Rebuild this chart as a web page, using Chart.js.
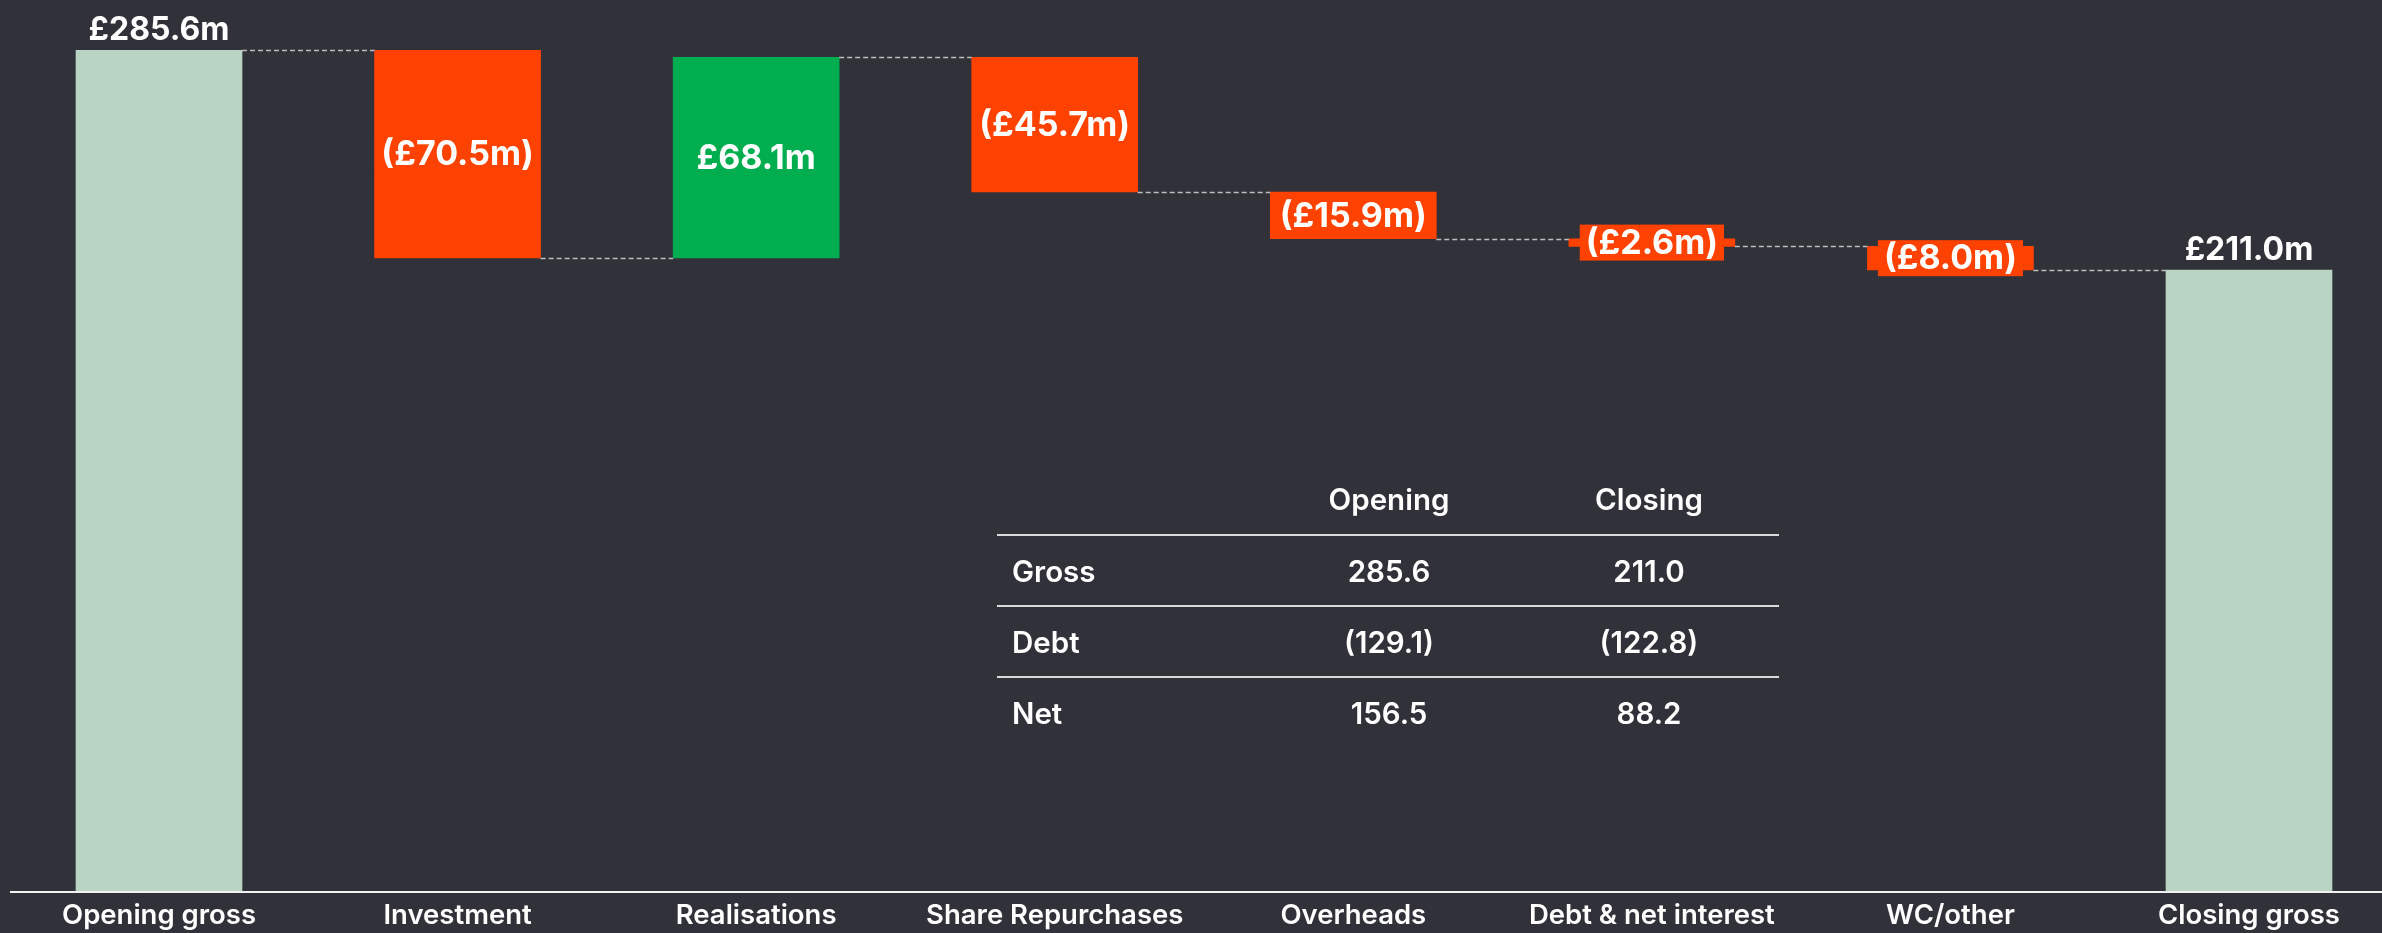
<!DOCTYPE html>
<html>
<head>
<meta charset="utf-8">
<script src="https://cdn.jsdelivr.net/npm/chart.js@4.4.1/dist/chart.umd.min.js"></script>
<style>
  html, body { margin: 0; padding: 0; background: #31313a; overflow: hidden; }
  #wrap { position: relative; width: 2382px; height: 933px; }
  canvas { display: block; }
  #tbl { position: absolute; left: 997px; top: 463px; width: 782px;
         font-family: Inter, "Open Sans", sans-serif; font-weight: 600; font-size: 29.5px; color: #ffffff; }
  .row { display: flex; align-items: center; height: 71px; box-sizing: border-box; }
  .row.body { border-top: 2px solid #d9d9d9; }
  .c0 { width: 262px; padding-left: 15px; box-sizing: border-box; text-align: left; }
  .c1, .c2 { width: 260px; text-align: center; }
</style>
</head>
<body>
<div id="wrap">
  <canvas id="chart" width="2382" height="933"></canvas>
  <div id="tbl"></div>
</div>
<script>
// ---- data ----
const categories = ['Opening gross', 'Investment', 'Realisations', 'Share Repurchases', 'Overheads', 'Debt & net interest', 'WC/other', 'Closing gross'];
const changes = [285.6, -70.5, 68.1, -45.7, -15.9, -2.6, -8.0, 211.0];
const barKinds = ['total', 'delta', 'delta', 'delta', 'delta', 'delta', 'delta', 'total'];

const tableColumns = ['Opening', 'Closing'];
const tableRows = ['Gross', 'Debt', 'Net'];
const openingValues = ['285.6', '(129.1)', '156.5'];
const closingValues = ['211.0', '(122.8)', '88.2'];

// ---- styles ----
const FONT = 'Inter, "Open Sans", sans-serif';
const COL_TOTAL = '#b9d3c4';
const COL_NEG = '#ff4200';
const COL_POS = '#00ae4f';

// build floating ranges from the changes
const ranges = [];
const levels = [];
let running = 0;
changes.forEach((v, i) => {
  if (barKinds[i] === 'total') { ranges.push([0, v]); running = v; }
  else { ranges.push([running, running + v]); running += v; }
  levels.push(running);
});
const colors = changes.map((v, i) => barKinds[i] === 'total' ? COL_TOTAL : (v < 0 ? COL_NEG : COL_POS));
const fmt = v => v < 0 ? '(£' + Math.abs(v).toFixed(1) + 'm)' : '£' + v.toFixed(1) + 'm';

const waterfallPlugin = {
  id: 'waterfallExtras',
  afterDatasetsDraw(chart) {
    const ctx = chart.ctx;
    const meta = chart.getDatasetMeta(0);
    const ys = chart.scales.y;
    ctx.save();
    // connectors
    ctx.setLineDash([5, 3]);
    ctx.strokeStyle = '#bdbdbd';
    ctx.lineWidth = 1.5;
    for (let i = 0; i < meta.data.length - 1; i++) {
      const a = meta.data[i], b = meta.data[i + 1];
      const y = Math.round(ys.getPixelForValue(levels[i])) + 0.5;
      ctx.beginPath();
      ctx.moveTo(a.x + a.width / 2, y);
      ctx.lineTo(b.x - b.width / 2, y);
      ctx.stroke();
    }
    // axis line
    ctx.setLineDash([]);
    ctx.strokeStyle = '#f2f2f2';
    ctx.lineWidth = 2;
    const y0 = ys.getPixelForValue(0) + 1;
    ctx.beginPath();
    ctx.moveTo(10, y0);
    ctx.lineTo(chart.width, y0);
    ctx.stroke();
    // value labels
    ctx.textAlign = 'center';
    meta.data.forEach((bar, i) => {
      const text = fmt(changes[i]);
      if (barKinds[i] === 'total') {
        ctx.font = '700 32px ' + FONT;
        ctx.textBaseline = 'alphabetic';
        ctx.fillStyle = '#ffffff';
        ctx.fillText(text, bar.x, Math.min(bar.y, bar.base) - 10);
      } else {
        ctx.font = '700 34px ' + FONT;
        ctx.textBaseline = 'middle';
        const w = ctx.measureText(text).width;
        const cy = (bar.y + bar.base) / 2;
        ctx.fillStyle = colors[i];
        ctx.fillRect(bar.x - w / 2 - 6, cy - 18, w + 12, 36);
        ctx.fillStyle = '#ffffff';
        ctx.fillText(text, bar.x, cy + 1);
      }
    });
    ctx.restore();
  }
};

new Chart(document.getElementById('chart'), {
  type: 'bar',
  data: {
    labels: categories,
    datasets: [{
      data: ranges,
      backgroundColor: colors,
      borderWidth: 0,
      barThickness: 166,
      clip: false
    }]
  },
  options: {
    responsive: false,
    animation: false,
    devicePixelRatio: 1,
    layout: { padding: { top: 8, left: 159, right: 133, bottom: 0 } },
    plugins: { legend: { display: false }, tooltip: { enabled: false } },
    scales: {
      x: {
        offset: false,
        grid: { display: false, drawTicks: false, offset: false },
        border: { display: false },
        ticks: {
          color: '#ffffff',
          font: { family: FONT, size: 27.5, weight: '600' },
          padding: 8,
          maxRotation: 0,
          autoSkip: false
        },
        afterFit(scale) { scale.height = 42; }
      },
      y: { display: false, min: 0, max: 300 }
    }
  },
  plugins: [waterfallPlugin]
});

// ---- table ----
const tbl = document.getElementById('tbl');
function addRow(cells, cls) {
  const r = document.createElement('div');
  r.className = 'row ' + cls;
  cells.forEach((t, j) => {
    const s = document.createElement('div');
    s.className = 'c' + j;
    s.textContent = t;
    r.appendChild(s);
  });
  tbl.appendChild(r);
}
addRow(['', tableColumns[0], tableColumns[1]], 'head');
tableRows.forEach((name, i) => addRow([name, openingValues[i], closingValues[i]], 'body'));
</script>
</body>
</html>
